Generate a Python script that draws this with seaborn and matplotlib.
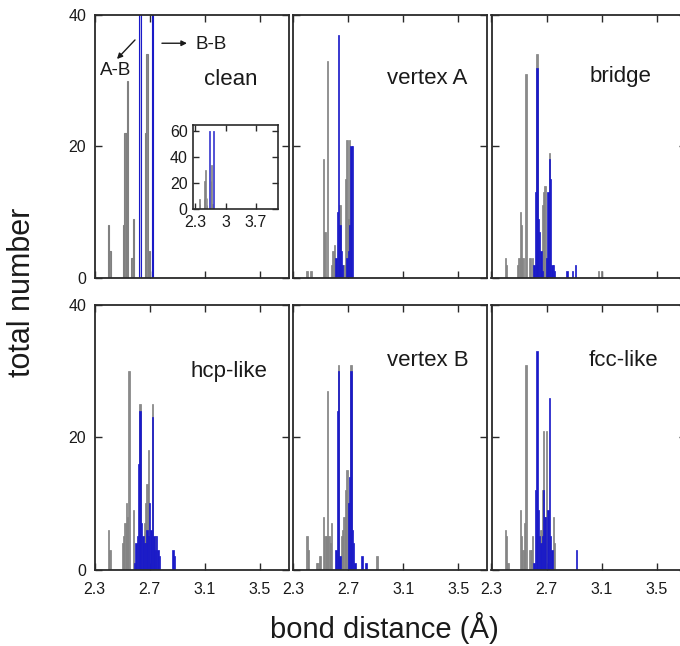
import numpy as np
import pandas as pd
import matplotlib
matplotlib.use("Agg")
import matplotlib.pyplot as plt
import seaborn as sns

sns.set_style("ticks")
plt.rcParams['font.family'] = ['Liberation Sans', 'DejaVu Sans']

# ---------------- data (bond distance bins in Å, counts) ----------------
panel_names = ["clean", "vertex A", "bridge", "hcp-like", "vertex B", "fcc-like"]

clean_ab_x = [2.40, 2.41, 2.51, 2.52, 2.53, 2.54, 2.57, 2.58, 2.67, 2.68, 2.70]
clean_ab_n = [8, 4, 8, 22, 22, 30, 3, 9, 22, 34, 4]
clean_bb_x = [2.63, 2.72]
clean_bb_n = [60, 60]

vA_ab_x = [2.40, 2.43, 2.52, 2.53, 2.55, 2.58, 2.59, 2.60, 2.64, 2.67, 2.68, 2.69, 2.70, 2.71]
vA_ab_n = [1, 1, 18, 7, 33, 2, 4, 5, 11, 2, 15, 21, 9, 21]
vA_bb_x = [2.61, 2.62, 2.63, 2.64, 2.65, 2.66, 2.69, 2.70, 2.71, 2.72, 2.73]
vA_bb_n = [3, 10, 37, 8, 4, 2, 3, 4, 8, 20, 20]

br_ab_x = [2.40, 2.41, 2.49, 2.50, 2.51, 2.52, 2.53, 2.55, 2.58, 2.60, 2.63,
           2.67, 2.68, 2.69, 2.70, 2.72, 3.08, 3.10]
br_ab_n = [3, 2, 2, 3, 10, 8, 3, 31, 3, 3, 34, 11, 13, 14, 3, 19, 1, 1]
br_bb_x = [2.61, 2.62, 2.63, 2.64, 2.65, 2.66, 2.67, 2.70, 2.71, 2.72, 2.73,
           2.74, 2.75, 2.76, 2.85, 2.89, 2.91]
br_bb_n = [2, 13, 32, 9, 7, 4, 1, 3, 13, 18, 15, 2, 2, 1, 1, 1, 2]

hcp_ab_x = [2.40, 2.41, 2.50, 2.51, 2.52, 2.53, 2.54, 2.55, 2.58, 2.63,
            2.66, 2.67, 2.68, 2.69, 2.72, 2.74]
hcp_ab_n = [6, 3, 4, 5, 7, 10, 8, 30, 9, 25, 7, 10, 13, 18, 25, 5]
hcp_bb_x = [2.59, 2.60, 2.61, 2.62, 2.63, 2.64, 2.65, 2.66, 2.67, 2.68, 2.69,
            2.70, 2.71, 2.72, 2.73, 2.74, 2.75, 2.76, 2.77, 2.87, 2.88]
hcp_bb_n = [1, 4, 5, 16, 24, 7, 5, 4, 4, 6, 5, 10, 6, 23, 5, 3, 5, 3, 2, 3, 2]

vB_ab_x = [2.40, 2.41, 2.47, 2.48, 2.49, 2.50, 2.52, 2.53, 2.54, 2.55, 2.56,
           2.57, 2.58, 2.63, 2.65, 2.66, 2.67, 2.68, 2.69, 2.70, 2.72, 2.91]
vB_ab_n = [5, 3, 1, 1, 2, 2, 8, 5, 5, 27, 5, 4, 7, 31, 5, 6, 8, 12, 15, 10, 31, 2]
vB_bb_x = [2.61, 2.62, 2.63, 2.64, 2.70, 2.71, 2.72, 2.73, 2.74, 2.75, 2.80, 2.83]
vB_bb_n = [3, 24, 30, 2, 10, 14, 30, 6, 4, 1, 2, 1]

fcc_ab_x = [2.40, 2.41, 2.42, 2.51, 2.52, 2.53, 2.54, 2.55, 2.58, 2.59, 2.60,
            2.66, 2.67, 2.68, 2.69, 2.70, 2.75, 2.76]
fcc_ab_n = [6, 5, 1, 9, 5, 3, 7, 31, 3, 3, 5, 6, 12, 21, 8, 21, 8, 4]
fcc_bb_x = [2.61, 2.62, 2.63, 2.64, 2.65, 2.66, 2.67, 2.68, 2.69, 2.71, 2.72,
            2.73, 2.74, 2.92]
fcc_bb_n = [1, 12, 33, 9, 5, 4, 5, 12, 8, 9, 26, 5, 3, 3]

x_ticks = [2.3, 2.7, 3.1, 3.5]
x_tick_labels = ["2.3", "2.7", "3.1", "3.5"]
y_ticks = [0, 20, 40]
inset_x_ticks = [2.3, 3.0, 3.7]
inset_x_tick_labels = ["2.3", "3", "3.7"]
inset_y_ticks = [0, 20, 40, 60]

series = [
    (clean_ab_x, clean_ab_n, clean_bb_x, clean_bb_n),
    (vA_ab_x, vA_ab_n, vA_bb_x, vA_bb_n),
    (br_ab_x, br_ab_n, br_bb_x, br_bb_n),
    (hcp_ab_x, hcp_ab_n, hcp_bb_x, hcp_bb_n),
    (vB_ab_x, vB_ab_n, vB_bb_x, vB_bb_n),
    (fcc_ab_x, fcc_ab_n, fcc_bb_x, fcc_bb_n),
]

# ---------------- style ----------------
GRAY_FACE, GRAY_EDGE = "#8a8a8a", "#808080"
BLUE_FACE, BLUE_EDGE = "#1a1ac8", "#1a1ac8"
CLEAN_BLUE_FACE = "#c4c4f0"
SPINE = "#2a2a2a"
TXT = "#1a1a1a"
BINW = 0.01
BINRANGE = (2.295, 3.205)

W, H = 680, 646
fig = plt.figure(figsize=(W / 100, H / 100), dpi=100)


def axpos(l, t, w, h):
    return [l / W, 1 - (t + h) / H, w / W, h / H]


lefts = [94.7, 293.3, 491.5]
tops = [15, 305]
heights = [262.7, 264.5]
PW = 194
XMAX = 2.3 + PW / 137.5

label_pos = [(0.70, 0.753), (0.692, 0.76), (0.667, 0.764),
             (0.69, 0.747), (0.692, 0.792), (0.678, 0.792)]


def draw_hist(ax, abx, abn, bbx, bbn, lw, blue_face=BLUE_FACE):
    sns.histplot(x=abx, weights=abn, binwidth=BINW, binrange=BINRANGE, ax=ax,
                 element="bars", facecolor=GRAY_FACE, edgecolor=GRAY_EDGE,
                 linewidth=lw)
    sns.histplot(x=bbx, weights=bbn, binwidth=BINW, binrange=BINRANGE, ax=ax,
                 element="bars", facecolor=blue_face, edgecolor=BLUE_EDGE,
                 linewidth=lw)
    ax.set_xlabel("")
    ax.set_ylabel("")


axes = []
for i, (name, data) in enumerate(zip(panel_names, series)):
    r, c = divmod(i, 3)
    ax = fig.add_axes(axpos(lefts[c], tops[r], PW, heights[r]))
    if i == 0:
        draw_hist(ax, *data, lw=0.8, blue_face=CLEAN_BLUE_FACE)
    else:
        draw_hist(ax, *data, lw=0.5)
    ax.set_xlim(2.3, XMAX)
    ax.set_ylim(0, 40)
    ax.set_xticks(x_ticks)
    ax.set_yticks(y_ticks)
    ax.tick_params(direction="in", top=True, right=True, length=5, width=1.0,
                   colors=SPINE, labelsize=11.5, labelcolor=TXT, pad=6)
    ax.tick_params(axis="x", pad=9)
    if c == 0:
        ax.set_yticklabels([str(v) for v in y_ticks])
    else:
        ax.tick_params(labelleft=False)
    if r == 1:
        ax.set_xticklabels(x_tick_labels)
    else:
        ax.tick_params(labelbottom=False)
    for s in ax.spines.values():
        s.set_linewidth(1.3)
        s.set_color(SPINE)
        s.set_visible(True)
    lx, ly = label_pos[i]
    ax.text(lx, ly, name, transform=ax.transAxes, ha="center", va="center",
            fontsize=16, color=TXT)
    axes.append(ax)

# annotations in the clean panel
ax0 = axes[0]
ax0.annotate("", xy=(2.462, 33.3), xytext=(2.593, 36.2),
             arrowprops=dict(arrowstyle="-|>", lw=1.0, color=TXT,
                             mutation_scale=8, shrinkA=0, shrinkB=0))
ax0.text(2.455, 31.6, "A-B", ha="center", va="center", fontsize=13.5,
         color=TXT)
ax0.annotate("", xy=(2.971, 35.7), xytext=(2.789, 35.7),
             arrowprops=dict(arrowstyle="-|>", lw=1.0, color=TXT,
                             mutation_scale=8, shrinkA=0, shrinkB=0))
ax0.text(3.03, 35.5, "B-B", ha="left", va="center", fontsize=13.5,
         color=TXT)

# inset in the clean panel
axi = fig.add_axes(axpos(193.3, 125, 85, 84.3))
draw_hist(axi, clean_ab_x, clean_ab_n, clean_bb_x, clean_bb_n, lw=0.5,
          blue_face=CLEAN_BLUE_FACE)
axi.set_xlim(2.26, 4.21)
axi.set_ylim(0, 65)
axi.set_xticks(inset_x_ticks)
axi.set_xticklabels(inset_x_tick_labels)
axi.set_yticks(inset_y_ticks)
axi.tick_params(direction="in", top=True, right=True, length=4, width=1.0,
                colors=SPINE, labelsize=11.5, labelcolor=TXT, pad=4)
for s in axi.spines.values():
    s.set_linewidth(1.2)
    s.set_color(SPINE)
    s.set_visible(True)

fig.text(22 / W, 1 - 292 / H, "total number", rotation=90, ha="center",
         va="center", fontsize=22, color=TXT)
fig.text(384 / W, 1 - 628 / H, "bond distance (Å)", ha="center",
         va="center", fontsize=21, color=TXT)

fig.savefig("out.png", dpi=100)
